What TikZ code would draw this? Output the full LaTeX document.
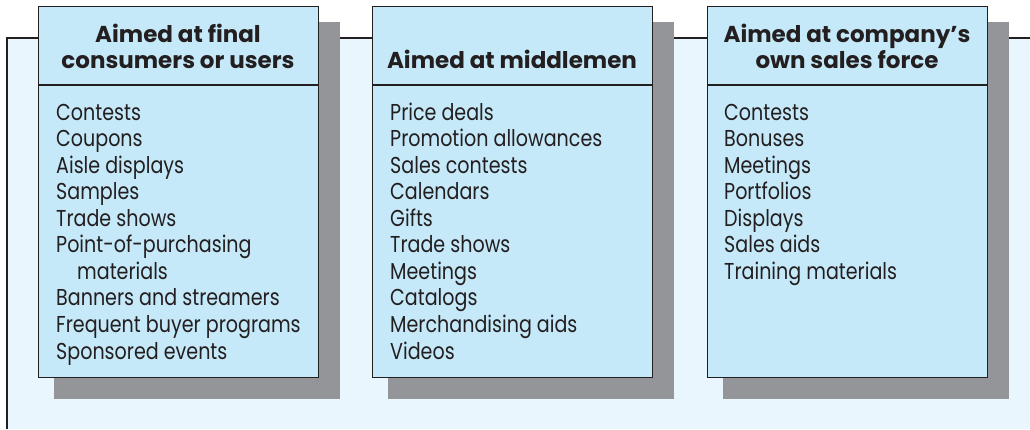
\documentclass[tikz,border=0pt]{standalone}
\usepackage{fontspec}
\setmainfont{Poppins}[FakeStretch=0.83]
\newfontfamily\headfont{Poppins}
\definecolor{bg}{HTML}{EAF6FD}
\definecolor{boxfill}{HTML}{C6E9F9}
\definecolor{shadowgray}{HTML}{949598}
\definecolor{ink}{HTML}{231F20}
\begin{document}
\begin{tikzpicture}[x=1pt,y=-1pt,
  box/.style={draw=ink, line width=1.1pt, fill=boxfill, anchor=north west,
    minimum width=280pt, minimum height=371pt, inner sep=0pt},
  itemtxt/.style={anchor=base west, inner sep=0pt, text=ink,
    font=\fontsize{23}{26}\selectfont},
  headtxt/.style={anchor=base, inner sep=0pt, text=ink,
    font=\headfont\fontsize{23}{26}\selectfont\bfseries}]
\useasboundingbox (0,0) rectangle (1030,429);
\fill[bg] (7,38) rectangle (1030,429);
\draw[ink, line width=1.1pt] (7,429) -- (7,38) -- (1030,38);
\foreach \x/\n in {38/1, 372/2, 707/3}{
  \fill[shadowgray] (\x+16,22) rectangle (\x+302,399);
  \node[box] (b\n) at (\x,6) {};
  \coordinate (hl\n) at (\x,85);
  \coordinate (hr\n) at (\x+280,85);
  \draw[ink, line width=1.1pt] (hl\n) -- (hr\n);
}
% headers
\node[headtxt] (h1a) at (178,42) {Aimed at final};
\node[headtxt] (h1b) at (178,68) {consumers or users};
\node[headtxt] (h2a) at (512,68) {Aimed at middlemen};
\node[headtxt] (h3a) at (847,42) {Aimed at company’s};
\node[headtxt] (h3b) at (847,68) {own sales force};
% items
\foreach \t [count=\i from 0] in {Contests, Coupons, Aisle displays, Samples, Trade shows, Point-of-purchasing, {\hspace*{21pt}materials}, Banners and streamers, Frequent buyer programs, Sponsored events}{
  \node[itemtxt] (a\i) at (56,120+26.56*\i) {\t};
}
\foreach \t [count=\i from 0] in {Price deals, Promotion allowances, Sales contests, Calendars, Gifts, Trade shows, Meetings, Catalogs, Merchandising aids, Videos}{
  \node[itemtxt] (m\i) at (390,120+26.56*\i) {\t};
}
\foreach \t [count=\i from 0] in {Contests, Bonuses, Meetings, Portfolios, Displays, Sales aids, Training materials}{
  \node[itemtxt] (s\i) at (724,120+26.56*\i) {\t};
}
\end{tikzpicture}
\end{document}
